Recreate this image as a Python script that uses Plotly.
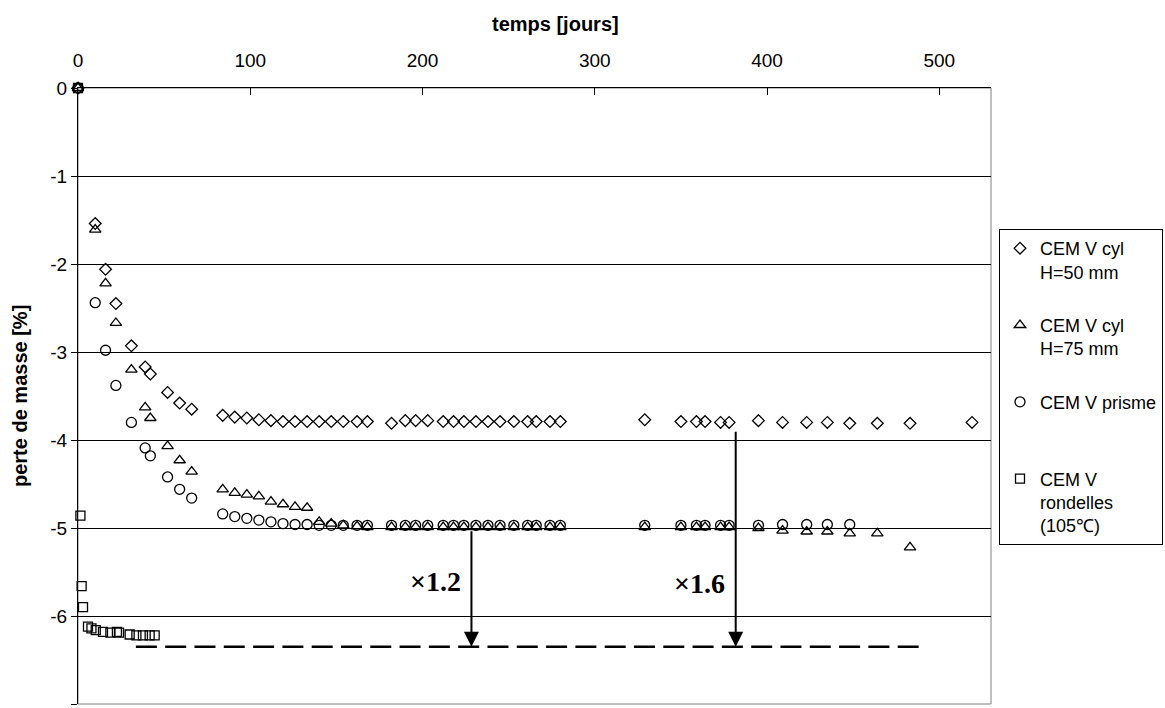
import plotly.graph_objects as go

# ---------------- data ----------------
days_cyl50 = [0, 10, 16, 22, 31, 39, 42, 52, 59, 66, 84, 91, 98, 105, 112, 119, 126, 133,
              140, 147, 154, 162, 168,
              182, 190, 196, 203, 212, 218, 224, 231, 238, 245, 253, 261, 266, 274, 280,
              329, 350, 359, 364, 373, 378,
              395, 409, 423, 435, 448, 464, 483, 519]
loss_cyl50 = [0, -1.54, -2.06, -2.45, -2.93, -3.17, -3.25, -3.46, -3.58, -3.65, -3.72, -3.74, -3.75, -3.77, -3.78, -3.79, -3.79, -3.79,
              -3.79, -3.79, -3.79, -3.79, -3.79,
              -3.81, -3.78, -3.78, -3.78, -3.79, -3.79, -3.79, -3.79, -3.79, -3.79, -3.79, -3.79, -3.79, -3.79, -3.79,
              -3.77, -3.79, -3.79, -3.79, -3.80, -3.80,
              -3.78, -3.80, -3.80, -3.80, -3.81, -3.81, -3.81, -3.80]

days_cyl75 = [0, 10, 16, 22, 31, 39, 42, 52, 59, 66, 84, 91, 98, 105, 112, 119, 126, 133,
              140, 147, 154, 162, 168,
              182, 190, 196, 203, 212, 218, 224, 231, 238, 245, 253, 261, 266, 274, 280,
              329, 350, 359, 364, 373, 378,
              395, 409, 423, 435, 448, 464, 483]
loss_cyl75 = [0, -1.61, -2.22, -2.67, -3.20, -3.63, -3.75, -4.07, -4.23, -4.36, -4.56, -4.60, -4.62, -4.64, -4.70, -4.73, -4.76, -4.77,
              -4.93, -4.95, -4.97, -4.98, -4.99,
              -4.99, -4.99, -4.99, -4.99, -4.99, -4.99, -4.99, -4.99, -4.99, -4.99, -4.99, -4.99, -4.99, -4.99, -4.99,
              -4.99, -4.99, -4.99, -4.99, -4.99, -4.99,
              -5.00, -5.03, -5.04, -5.04, -5.06, -5.06, -5.22]

days_prisme = [0, 10, 16, 22, 31, 39, 42, 52, 59, 66, 84, 91, 98, 105, 112, 119, 126, 133,
               140, 147, 154, 162, 168,
               182, 190, 196, 203, 212, 218, 224, 231, 238, 245, 253, 261, 266, 274, 280,
               329, 350, 359, 364, 373, 378,
               395, 409, 423, 435, 448]
loss_prisme = [0, -2.44, -2.98, -3.38, -3.80, -4.09, -4.18, -4.42, -4.56, -4.66, -4.84, -4.87, -4.89, -4.91, -4.93, -4.95, -4.96, -4.96,
               -4.97, -4.97, -4.97, -4.97, -4.97,
               -4.97, -4.97, -4.97, -4.97, -4.97, -4.97, -4.97, -4.97, -4.97, -4.97, -4.97, -4.97, -4.97, -4.97, -4.97,
               -4.97, -4.97, -4.97, -4.97, -4.97, -4.97,
               -4.97, -4.96, -4.96, -4.96, -4.96]

days_rond = [0, 1.4, 2.1, 2.9, 5.8, 7.8, 10.3, 14.5, 18.8, 22.6, 23.8, 30, 33.9, 37.7, 41.6, 44.5]
loss_rond = [0, -4.86, -5.66, -5.90, -6.12, -6.14, -6.16, -6.18, -6.19, -6.18, -6.19, -6.21, -6.22, -6.22, -6.22, -6.22]

series_names = ["CEM V cyl<br>H=50 mm", "CEM V cyl<br>H=75 mm", "CEM V prisme<br> ",
                "CEM V<br>rondelles<br>(105\u2103)"]

# reference level (dashed) and ratio arrows
ref_x = [33.6, 488]
ref_level = -6.35
arrow_days = [228.4, 381.8]
arrow_from = [-5.02, -3.89]
ratio_labels = ["\u00d71.2", "\u00d71.6"]
ratio_label_days = [207.5, 361]
ratio_label_y = [-5.61, -5.63]

x_ticks = [0, 100, 200, 300, 400, 500]
y_ticks = [0, -1, -2, -3, -4, -5, -6, -7]
y_ticktext = ["0", "-1", "-2", "-3", "-4", "-5", "-6", "-7"]

FONT = "Liberation Sans, Arial, sans-serif"
L, R, T, B = 78, 991, 88, 704   # plot area in pixels
PW, PH = R - L, B - T

fig = go.Figure()

marker_defs = [
    ("diamond-open", 9),
    ("triangle-up-open", 10),
    ("circle-open", 10),
    ("square-open", 9),
]
xs = [days_cyl50, days_cyl75, days_prisme, days_rond]
ys = [loss_cyl50, loss_cyl75, loss_prisme, loss_rond]
for i in range(4):
    sym, sz = marker_defs[i]
    fig.add_trace(go.Scatter(
        x=xs[i], y=ys[i], mode="markers", name=series_names[i],
        legendgroup="g%d" % i,
        marker=dict(symbol=sym, size=sz, color="black", line=dict(color="black", width=1.3)),
        cliponaxis=False,
    ))

fig.add_trace(go.Scatter(
    x=ref_x, y=[ref_level, ref_level], mode="lines", showlegend=False,
    line=dict(color="black", width=2.6, dash="21px,8.3px"), hoverinfo="skip",
))

annotations = []
for d, y0, lab, lx, ly in zip(arrow_days, arrow_from, ratio_labels, ratio_label_days, ratio_label_y):
    annotations.append(dict(
        x=d, y=ref_level, ax=d, ay=y0, xref="x", yref="y", axref="x", ayref="y",
        text="", showarrow=True, arrowhead=2, arrowsize=1.5, arrowwidth=2,
        arrowcolor="black", standoff=0, startstandoff=0,
    ))
    annotations.append(dict(
        x=lx, y=ly, xref="x", yref="y", text="<b>%s</b>" % lab, showarrow=False,
        xanchor="center", yanchor="middle",
        font=dict(family="Liberation Serif, Times New Roman, serif", size=28, color="black"),
    ))

# axis titles (pixel positions converted to paper coordinates)
annotations.append(dict(
    x=(555 - L) / PW, y=(B - 24) / PH, xref="paper", yref="paper",
    xanchor="center", yanchor="middle",
    text="<b>temps [jours]</b>", showarrow=False,
    font=dict(family=FONT, size=20, color="black"),
))
annotations.append(dict(
    x=(20 - L) / PW, y=(B - 396) / PH, xref="paper", yref="paper",
    xanchor="center", yanchor="middle",
    text="<b>perte de masse [%]</b>", showarrow=False, textangle=-90,
    font=dict(family=FONT, size=20, color="black"),
))
fig.update_layout(annotations=annotations)

fig.update_xaxes(
    side="top", range=[0, 530], tickvals=x_ticks, ticks="inside", ticklen=7,
    tickcolor="black", tickwidth=1, showline=True, linecolor="black", linewidth=1,
    showgrid=False, zeroline=False, ticklabelstandoff=12,
    tickfont=dict(family=FONT, size=19, color="black"),
)
fig.update_yaxes(
    range=[-7, 0], tickvals=y_ticks, ticktext=y_ticktext, ticks="outside", ticklen=6,
    tickcolor="black", tickwidth=1, showline=True, linecolor="black", linewidth=1,
    showgrid=True, gridcolor="black", gridwidth=1, zeroline=False,
    tickfont=dict(family=FONT, size=19, color="black"),
)

fig.add_shape(type="rect", xref="paper", yref="paper", x0=0, x1=1, y0=0, y1=1,
              line=dict(color="#808080", width=1), layer="below")

fig.update_layout(
    width=1165, height=708,
    margin=dict(l=L, r=1165 - R, t=T, b=708 - B, autoexpand=False),
    paper_bgcolor="white", plot_bgcolor="white",
    font=dict(family=FONT, size=19, color="black"),
    showlegend=True,
    legend=dict(
        x=(999 - L) / PW, xanchor="left", y=(B - 229) / PH, yanchor="top",
        bgcolor="white", bordercolor="black", borderwidth=1,
        font=dict(family=FONT, size=18, color="black"),
        traceorder="grouped", tracegroupgap=27, valign="top", itemclick=False,
    ),
)

fig.write_html("out.html", config={"displayModeBar": False},
               post_script="document.body.style.margin='0';")
